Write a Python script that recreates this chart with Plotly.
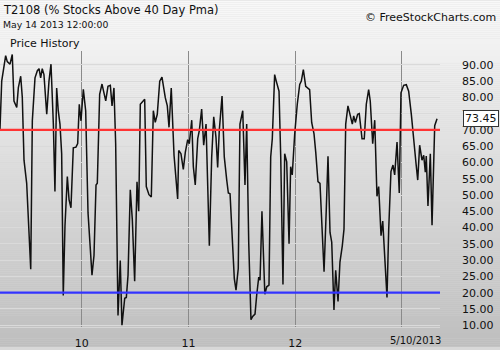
import plotly.graph_objects as go

# ---- data (decimal year, T2108 %) ----
years = [
    2009.234, 2009.250, 2009.287, 2009.302, 2009.328, 2009.349, 2009.365, 2009.391, 2009.406, 2009.428,
    2009.443, 2009.459, 2009.484, 2009.522, 2009.537, 2009.562, 2009.584, 2009.600, 2009.615, 2009.630,
    2009.646, 2009.672, 2009.693, 2009.712, 2009.734, 2009.749, 2009.765, 2009.780, 2009.796, 2009.812,
    2009.827, 2009.843, 2009.865, 2009.881, 2009.899, 2009.921, 2009.946, 2009.962, 2009.977, 2009.993,
    2010.015, 2010.037, 2010.059, 2010.096, 2010.115, 2010.134, 2010.146, 2010.168, 2010.190, 2010.225,
    2010.246, 2010.268, 2010.284, 2010.302, 2010.318, 2010.340, 2010.361, 2010.377, 2010.403, 2010.418,
    2010.434, 2010.455, 2010.474, 2010.496, 2010.518, 2010.534, 2010.549, 2010.568, 2010.590, 2010.605,
    2010.630, 2010.652, 2010.671, 2010.689, 2010.708, 2010.731, 2010.752, 2010.783, 2010.802, 2010.818,
    2010.839, 2010.865, 2010.899, 2010.909, 2010.930, 2010.952, 2010.971, 2010.993, 2011.008, 2011.031,
    2011.046, 2011.064, 2011.087, 2011.102, 2011.124, 2011.143, 2011.165, 2011.196, 2011.218, 2011.237,
    2011.258, 2011.274, 2011.289, 2011.315, 2011.336, 2011.359, 2011.374, 2011.390, 2011.415, 2011.430,
    2011.446, 2011.467, 2011.483, 2011.509, 2011.530, 2011.546, 2011.565, 2011.586, 2011.602, 2011.624,
    2011.640, 2011.659, 2011.671, 2011.689, 2011.716, 2011.734, 2011.755, 2011.771, 2011.786, 2011.808,
    2011.823, 2011.849, 2011.865, 2011.886, 2011.902, 2011.921, 2011.943, 2011.958, 2011.973, 2011.996,
    2012.020, 2012.043, 2012.058, 2012.077, 2012.099, 2012.114, 2012.136, 2012.155, 2012.177, 2012.193,
    2012.214, 2012.233, 2012.249, 2012.271, 2012.292, 2012.308, 2012.327, 2012.343, 2012.364, 2012.380,
    2012.402, 2012.420, 2012.442, 2012.458, 2012.474, 2012.495, 2012.514, 2012.536, 2012.549, 2012.564,
    2012.586, 2012.601, 2012.627, 2012.648, 2012.667, 2012.689, 2012.704, 2012.727, 2012.746, 2012.767,
    2012.783, 2012.805, 2012.821, 2012.839, 2012.861, 2012.877, 2012.898, 2012.917, 2012.933, 2012.955,
    2012.976, 2012.992, 2013.017, 2013.042, 2013.064, 2013.089, 2013.111, 2013.133, 2013.149, 2013.167,
    2013.189, 2013.205, 2013.220, 2013.229, 2013.245, 2013.267, 2013.283, 2013.308, 2013.330,
]
t2108 = [
    70.3, 85.0, 92.8, 91.0, 90.2, 93.2, 78.9, 76.9, 83.0, 86.5,
    80.0, 60.7, 53.6, 27.2, 72.8, 86.0, 88.2, 88.8, 86.0, 88.8,
    87.0, 74.8, 85.0, 90.2, 71.8, 51.1, 82.9, 75.9, 71.8, 62.7,
    19.1, 40.5, 55.7, 48.6, 46.1, 64.5, 64.7, 65.8, 77.9, 72.8,
    82.5, 75.9, 44.5, 25.4, 31.4, 53.1, 53.6, 80.9, 84.1, 78.9,
    83.4, 83.7, 77.4, 82.9, 65.8, 13.0, 29.9, 10.0, 18.3, 18.5,
    25.4, 51.6, 42.5, 23.5, 54.1, 45.0, 77.9, 78.7, 79.4, 52.6,
    50.1, 49.4, 75.9, 72.3, 74.8, 85.0, 86.2, 79.9, 77.4, 70.8,
    82.9, 62.2, 48.8, 63.7, 62.7, 57.9, 63.2, 67.0, 65.8, 73.0,
    58.7, 53.1, 67.3, 69.8, 76.4, 65.3, 71.8, 34.4, 61.7, 74.0,
    67.8, 58.5, 69.8, 80.4, 61.7, 54.6, 50.6, 50.4, 35.5, 24.3,
    20.8, 27.4, 71.8, 75.9, 53.1, 71.8, 35.5, 11.7, 12.7, 13.4,
    19.3, 24.8, 23.8, 45.0, 19.5, 21.8, 22.3, 61.7, 67.3, 87.0,
    85.0, 81.9, 61.7, 22.5, 62.7, 60.2, 35.0, 58.7, 56.2, 68.8,
    77.9, 84.0, 85.0, 88.5, 83.4, 82.9, 82.4, 72.3, 68.8, 63.2,
    54.1, 53.6, 42.5, 26.4, 45.6, 61.9, 38.5, 35.5, 14.7, 26.9,
    17.3, 29.4, 34.4, 39.5, 71.8, 77.4, 74.8, 71.8, 74.3, 72.3,
    74.8, 75.0, 67.3, 67.3, 77.9, 82.4, 78.9, 65.8, 73.0, 49.6,
    52.6, 37.5, 42.0, 31.4, 18.5, 39.5, 57.2, 59.2, 56.2, 66.3,
    50.6, 81.4, 83.7, 83.9, 81.9, 74.8, 65.8, 59.7, 54.6, 65.3,
    60.7, 62.2, 57.0, 62.0, 46.6, 62.7, 40.7, 71.3, 73.45,
]
upper_level = 70
lower_level = 20
year_ticks = [2010, 2011, 2012, 2013]
year_labels = ["10", "11", "12", ""]
last_date_label = "5/10/2013"
y_ticks = list(range(10, 95, 5))

W, H = 500, 350
L, R, T, B = 0, 60, 51, 20
PW, PH = W - L - R, H - T - B
FONT = "DejaVu Sans"

def px_x(x):
    return (x - L) / PW

def px_y(y):
    return (H - B - y) / PH

fig = go.Figure()
fig.add_trace(go.Scatter(x=years, y=t2108, mode="lines",
                         line=dict(color="#111111", width=1.5), hoverinfo="skip",
                         showlegend=False))

shapes = []
# background gradient (whole image)
step = 2
for p in range(0, H, step):
    t = (p + step / 2) / H
    c = int(round(249 - (249 - 190) * t))
    shapes.append(dict(type="rect", xref="paper", yref="paper",
                       x0=px_x(0), x1=px_x(W), y0=px_y(p + step), y1=px_y(p),
                       fillcolor=f"rgb({c},{c},{c})", line=dict(width=0),
                       layer="below"))
shapes.append(dict(type="line", xref="paper", yref="y", x0=0, x1=1,
                   y0=upper_level, y1=upper_level,
                   line=dict(color="#ff3333", width=2.3)))
shapes.append(dict(type="line", xref="paper", yref="y", x0=0, x1=1,
                   y0=lower_level, y1=lower_level,
                   line=dict(color="#3333ff", width=2.3)))

annotations = [
    dict(text="T2108 (% Stocks Above 40 Day Pma)", x=px_x(1), y=px_y(10),
         xanchor="left", yanchor="middle", font=dict(size=11.5, color="#111")),
    dict(text="May 14 2013 12:00:00", x=px_x(1), y=px_y(24.5),
         xanchor="left", yanchor="middle", font=dict(size=9.3, color="#111")),
    dict(text="Price History", x=px_x(8), y=px_y(43),
         xanchor="left", yanchor="middle", font=dict(size=11, color="#111")),
    dict(text="© FreeStockCharts.com", x=px_x(498), y=px_y(17.5),
         xanchor="right", yanchor="middle", font=dict(size=11, color="#111")),
    dict(text=last_date_label, x=px_x(415), y=px_y(344),
         xanchor="center", yanchor="middle", font=dict(size=10, color="#111")),
    dict(text=f"{t2108[-1]:.2f}", xref="paper", yref="y", x=px_x(463), y=t2108[-1],
         xanchor="left", yanchor="middle", font=dict(size=11, color="#111"),
         bgcolor="white", bordercolor="#333", borderwidth=1, borderpad=1),
]
for a in annotations:
    a.setdefault("xref", "paper")
    a.setdefault("yref", "paper")
    a["showarrow"] = False

fig.update_layout(
    width=W, height=H,
    margin=dict(l=L, r=R, t=T, b=B, pad=0),
    paper_bgcolor="#d8d8d8",
    plot_bgcolor="rgba(0,0,0,0)",
    font=dict(family=FONT, size=11, color="#111"),
    shapes=shapes,
    annotations=annotations,
    xaxis=dict(range=[2009.234, 2009.234 + PW / 106.7], tickmode="array",
               tickvals=year_ticks, ticktext=year_labels,
               showgrid=True, gridcolor="#8a8a8a", gridwidth=1,
               zeroline=False, ticks="", ticklabelstandoff=6,
               showline=True, linecolor="#d6d6d6", linewidth=1,
               tickfont=dict(size=11, color="#111"), fixedrange=True),
    yaxis=dict(range=[9.45, 94.25], side="right", tickmode="array",
               tickvals=y_ticks, ticktext=[f"{v:.2f}" for v in y_ticks],
               showgrid=True, gridcolor="#dadada", gridwidth=1,
               zeroline=False, ticks="", ticklabelstandoff=21,
               tickfont=dict(size=11, color="#111"), fixedrange=True),
)

fig.write_html("out.html")
